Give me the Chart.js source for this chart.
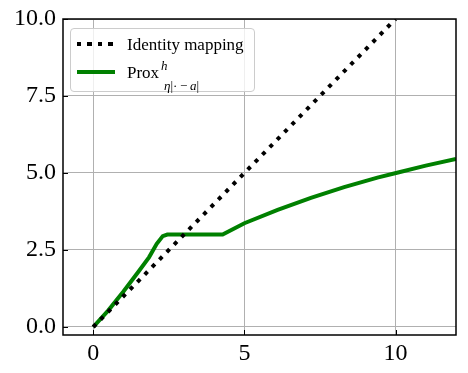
<!DOCTYPE html>
<html>
<head>
<meta charset="utf-8">
<script src="https://cdn.jsdelivr.net/npm/chart.js@4"></script>
<style>
  body { margin: 0; background: #fff; }
  #wrap { position: relative; width: 468px; height: 373px; }
  #legend {
    position: absolute; left: 70px; top: 28px; width: 185px; height: 64px;
    box-sizing: border-box; border: 1px solid #cccccc; border-radius: 4px;
    background: rgba(255,255,255,0.8);
    font-family: "Liberation Serif", serif; color: #000;
  }
  #legend .sample { position: absolute; left: 6px; width: 38px; height: 4px; }
  #legend .label { position: absolute; left: 56px; font-size: 17px; line-height: 1; white-space: nowrap; }
  #legend .sup { position: absolute; font-size: 13px; font-style: italic; line-height: 1; }
  #legend .sub { position: absolute; font-size: 13px; line-height: 1; white-space: nowrap; }
</style>
</head>
<body>
<div id="wrap">
  <canvas id="chart" width="468" height="373"></canvas>
  <div id="legend"></div>
</div>
<script>
// identity mapping y = x
const identityX = [0, 10];
const identityY = [0, 10];

// prox curve
const proxX = [0, 0.5, 1.0, 1.5, 1.85, 2.1, 2.3, 2.45, 4.28, 5.0, 6.1, 7.2, 8.3, 9.4, 10.05, 11.0, 12.0];
const proxY = [0, 0.54, 1.15, 1.8, 2.27, 2.7, 2.95, 3.0, 3.0, 3.37, 3.8, 4.19, 4.54, 4.85, 5.01, 5.24, 5.46];

const xTicks = [0, 5, 10];
const yTicks = [0, 2.5, 5, 7.5, 10];

const toPoints = (xs, ys) => xs.map((x, i) => ({ x: x, y: ys[i] }));

Chart.defaults.font.family = '"Liberation Serif", serif';
Chart.defaults.font.size = 24;
Chart.defaults.font.lineHeight = 1;
Chart.defaults.color = '#000';

// frame + inward tick marks like matplotlib
const framePlugin = {
    id: 'frame',
    afterDraw(chart) {
        const { ctx, chartArea: a, scales } = chart;
        ctx.save();
        ctx.strokeStyle = '#000';
        ctx.lineWidth = 1;
        scales.x.ticks.forEach(t => {
            const px = Math.round(scales.x.getPixelForValue(t.value)) + 0.5;
            ctx.beginPath();
            ctx.moveTo(px, a.bottom);
            ctx.lineTo(px, a.bottom - 5);
            ctx.stroke();
        });
        scales.y.ticks.forEach(t => {
            const py = Math.round(scales.y.getPixelForValue(t.value)) + 0.5;
            ctx.beginPath();
            ctx.moveTo(a.left, py);
            ctx.lineTo(a.left + 5, py);
            ctx.stroke();
        });
        ctx.lineWidth = 1.5;
        ctx.strokeRect(a.left, a.top, a.right - a.left, a.bottom - a.top);
        ctx.restore();
    }
};

const chart = new Chart(document.getElementById('chart'), {
    type: 'line',
    data: {
        datasets: [
            {
                label: 'Identity mapping',
                data: toPoints(identityX, identityY),
                borderColor: '#000',
                borderWidth: 4,
                borderDash: [4, 6.5],
                borderCapStyle: 'butt',
                pointRadius: 0,
                tension: 0
            },
            {
                label: 'Prox',
                data: toPoints(proxX, proxY),
                borderColor: '#008000',
                borderWidth: 4,
                pointRadius: 0,
                tension: 0
            }
        ]
    },
    options: {
        responsive: false,
        animation: false,
        layout: { padding: { left: 7, right: 12, top: 19, bottom: 0 } },
        plugins: { legend: { display: false }, tooltip: { enabled: false } },
        scales: {
            x: {
                type: 'linear',
                min: -1, max: 12,
                afterBuildTicks: s => { s.ticks = xTicks.map(v => ({ value: v })); },
                ticks: { padding: 7, callback: v => String(v) },
                grid: { color: '#b0b0b0', lineWidth: 1, drawTicks: false },
                border: { display: false }
            },
            y: {
                type: 'linear',
                min: -0.26, max: 10,
                afterBuildTicks: s => { s.ticks = yTicks.map(v => ({ value: v })); },
                ticks: { padding: 7, callback: v => v.toFixed(1) },
                grid: { color: '#b0b0b0', lineWidth: 1, drawTicks: false },
                border: { display: false }
            }
        }
    },
    plugins: [framePlugin]
});

// legend box drawn as html, styles taken from the datasets
const legend = document.getElementById('legend');
const ds = chart.data.datasets;

const s1 = document.createElement('div');
s1.className = 'sample';
s1.style.top = '13px';
s1.style.background = `repeating-linear-gradient(to right, ${ds[0].borderColor} 0 4px, transparent 4px 10.5px)`;
legend.appendChild(s1);

const l1 = document.createElement('div');
l1.className = 'label';
l1.style.top = '7px';
l1.textContent = ds[0].label;
legend.appendChild(l1);

const s2 = document.createElement('div');
s2.className = 'sample';
s2.style.top = '41px';
s2.style.background = ds[1].borderColor;
legend.appendChild(s2);

const l2 = document.createElement('div');
l2.className = 'label';
l2.style.top = '35px';
l2.innerHTML = 'Prox';
legend.appendChild(l2);

const sup = document.createElement('div');
sup.className = 'sup';
sup.style.left = '90px';
sup.style.top = '30px';
sup.textContent = 'h';
legend.appendChild(sup);

const sub = document.createElement('div');
sub.className = 'sub';
sub.style.left = '93px';
sub.style.top = '50px';
sub.innerHTML = '<i>η</i>|·&#8201;−&#8201;<i>a</i>|';
legend.appendChild(sub);
</script>
</body>
</html>
